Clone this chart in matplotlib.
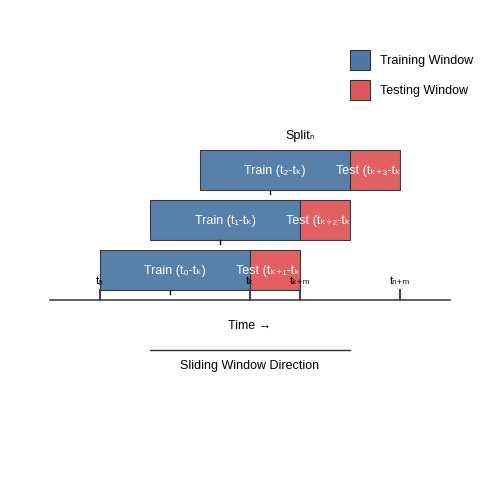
import matplotlib.pyplot as plt
from matplotlib.patches import Rectangle

plt.rcParams['font.family'] = ['Liberation Sans', 'DejaVu Sans']

# window layout (time units along x)
train_start = [100, 150, 200]
train_len = [150, 150, 150]
test_len = [50, 50, 50]
row_y = [250, 200, 150]
train_labels = ['Train (t₀-tₖ)', 'Train (t₁-tₖ)', 'Train (t₂-tₖ)']
test_labels = ['Test (tₖ₊₁-tₖ₊ₘ)', 'Test (tₖ₊₂-tₖ₊ₘ)', 'Test (tₖ₊₃-tₖ₊ₘ)']
tick_pos = [100, 250, 300, 400]
tick_labels = ['t₀', 'tₖ', 'tₖ₊ₘ', 'tₙ₊ₘ']

blue = '#4e79a7'
red = '#e15759'

fig = plt.figure(figsize=(5, 5), dpi=100)
ax = fig.add_axes([0, 0, 1, 1])
ax.set_xlim(0, 500)
ax.set_ylim(500, 0)
ax.axis('off')

for s, tl, te, y, lt, le in zip(train_start, train_len, test_len, row_y, train_labels, test_labels):
    ax.add_patch(Rectangle((s, y), tl, 40, facecolor=blue, edgecolor='#333333', lw=0.8, alpha=0.95))
    ax.add_patch(Rectangle((s + tl, y), te, 40, facecolor=red, edgecolor='#333333', lw=0.8, alpha=0.95))
    ax.text(s + tl / 2, y + 21, lt, color='white', ha='center', va='center', fontsize=9)
    ax.text(s + tl + te / 2 + 2, y + 21, le, color='white', ha='center', va='center', fontsize=9, clip_on=False)
    ax.plot([s + tl / 2 - 5] * 2, [y + 40, y + 44], color='black', lw=1)

ax.text(300, 136, 'Splitₙ', ha='center', va='center', fontsize=9)

# time axis
ax.plot([50, 450], [300, 300], color='#444444', lw=1.2)
for p, lab in zip(tick_pos, tick_labels):
    ax.plot([p, p], [290, 300], color='#444444', lw=1.5)
    ax.text(p, 281, lab, ha='center', va='center', fontsize=8)
ax.text(250, 326, 'Time →', ha='center', va='center', fontsize=9)
ax.plot([150, 350], [350, 350], color='#333333', lw=1)
ax.text(250, 366, 'Sliding Window Direction', ha='center', va='center', fontsize=9)

# legend
for y, c, lab in [(50, blue, 'Training Window'), (80, red, 'Testing Window')]:
    ax.add_patch(Rectangle((350, y), 20, 20, facecolor=c, edgecolor='#333333', lw=0.8))
    ax.text(380, y + 11, lab, ha='left', va='center', fontsize=9)

fig.savefig('out.png', dpi=100)
